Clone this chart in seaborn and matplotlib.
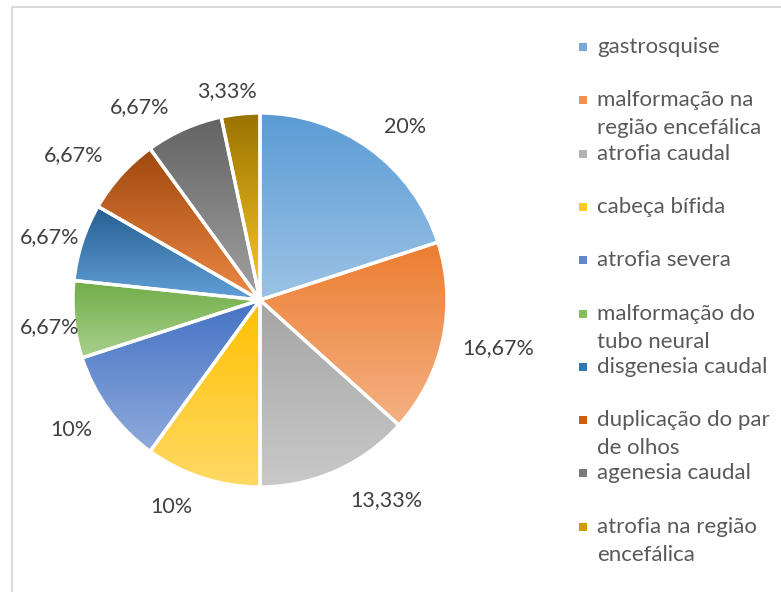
import textwrap
import colorsys
import numpy as np
import matplotlib
matplotlib.use("Agg")
import matplotlib.pyplot as plt
from matplotlib.lines import Line2D
from matplotlib.patches import Wedge, Rectangle
import matplotlib.colors as mcolors
import seaborn as sns

# ---- data ----
categories = [
    "gastrosquise",
    "malformação na região encefálica",
    "atrofia caudal",
    "cabeça bífida",
    "atrofia severa",
    "malformação do tubo neural",
    "disgenesia caudal",
    "duplicação do par de olhos",
    "agenesia caudal",
    "atrofia na região encefálica",
]
values = [20, 16.67, 13.33, 10, 10, 6.67, 6.67, 6.67, 6.67, 3.33]
base_colors = ["#5B9BD5", "#ED7D31", "#A5A5A5", "#FFC000", "#4472C4",
               "#70AD47", "#255E91", "#9E480E", "#636363", "#997300"]

# ---- layout (Excel "best fit" label placement: angle nudge in deg, radial factor) ----
label_angle_nudge = [-4.0, 0.6, 8.2, -5.3, -1.5, 1.3, 1.3, 4.1, 7.9, 3.0]
label_radius = [1.207, 1.298, 1.264, 1.205, 1.227, 1.135, 1.175, 1.261, 1.215, 1.132]

sns.set_theme(style="white")
plt.rcParams["font.family"] = ["Lato", "DejaVu Sans"]

W, H = 781, 592
fig = plt.figure(figsize=(W / 100, H / 100), dpi=100)
fig.patch.set_facecolor("white")

# pie geometry in pixels
cx, cy, R = 260, H - 300, 187
half = 1.4 * R
ax = fig.add_axes([(cx - half) / W, (cy - half) / H, 2 * half / W, 2 * half / H])
ax.set_axis_off()


def fmt(v):
    s = f"{v:.2f}".rstrip("0").rstrip(".")
    return s.replace(".", ",") + "%"


palette = sns.color_palette(base_colors)
wedges, texts = ax.pie(values, colors=palette, startangle=90, counterclock=False,
                       wedgeprops=dict(linewidth=0))
ax.set_xlim(-1.4, 1.4)
ax.set_ylim(-1.4, 1.4)
ax.set_aspect("equal")


def tint(c, f):
    r, g, b = mcolors.to_rgb(c)
    h, l, s = colorsys.rgb_to_hls(r, g, b)
    l2 = l + (1 - l) * f
    return colorsys.hls_to_rgb(h, l2, s)


grad = np.linspace(0, 1, 256)[:, None]
for w, c in zip(wedges, base_colors):
    ext = w.get_path().get_extents()
    top = np.array(mcolors.to_rgb(c))
    bot = np.array(tint(c, 0.40))
    img = top[None, None, :] * (1 - grad[:, :, None]) + bot[None, None, :] * grad[:, :, None]
    im = ax.imshow(img, extent=[ext.x0, ext.x1, ext.y0, ext.y1], origin="upper",
                   aspect="auto", zorder=1, interpolation="bilinear")
    im.set_clip_path(w)
    w.set_visible(False)
    edge = Wedge((w.center[0], w.center[1]), w.r, w.theta1, w.theta2,
                 facecolor="none", edgecolor="white", linewidth=2.4, zorder=3)
    ax.add_patch(edge)

# data labels
for w, v, da, rf in zip(wedges, values, label_angle_nudge, label_radius):
    ang = np.deg2rad((w.theta1 + w.theta2) / 2 + da)
    ax.text(rf * np.cos(ang), rf * np.sin(ang), fmt(v), ha="center", va="center",
            fontsize=15.5, color="#404040", zorder=5)

ax.set_xlim(-1.4, 1.4)
ax.set_ylim(-1.4, 1.4)

# legend (manual, Excel style wrapping)
lx_marker, lx_text = 583, 597
y0, step, line_gap = 47, 53.3, 28
for i, (cat, c) in enumerate(zip(categories, base_colors)):
    y = y0 + i * step
    s = 8
    fig.add_artist(Rectangle(((lx_marker - s / 2) / W, (H - y - s / 2) / H), s / W, s / H,
                             transform=fig.transFigure, facecolor=tint(c, 0.15),
                             edgecolor="none"))
    for j, line in enumerate(textwrap.wrap(cat, 17)):
        fig.text(lx_text / W, (H - y - j * line_gap) / H, line, ha="left", va="center",
                 fontsize=16, color="#595959")

# chart frame (partially visible)
fcol = "#d9d9d9"
fig.add_artist(Line2D([12 / W, 12 / W], [0, (H - 7) / H], color=fcol, lw=1.5,
                      transform=fig.transFigure))
fig.add_artist(Line2D([12 / W, 1], [(H - 7) / H, (H - 7) / H], color=fcol, lw=1.5,
                      transform=fig.transFigure))

fig.savefig("out.png", dpi=100, facecolor="white")
